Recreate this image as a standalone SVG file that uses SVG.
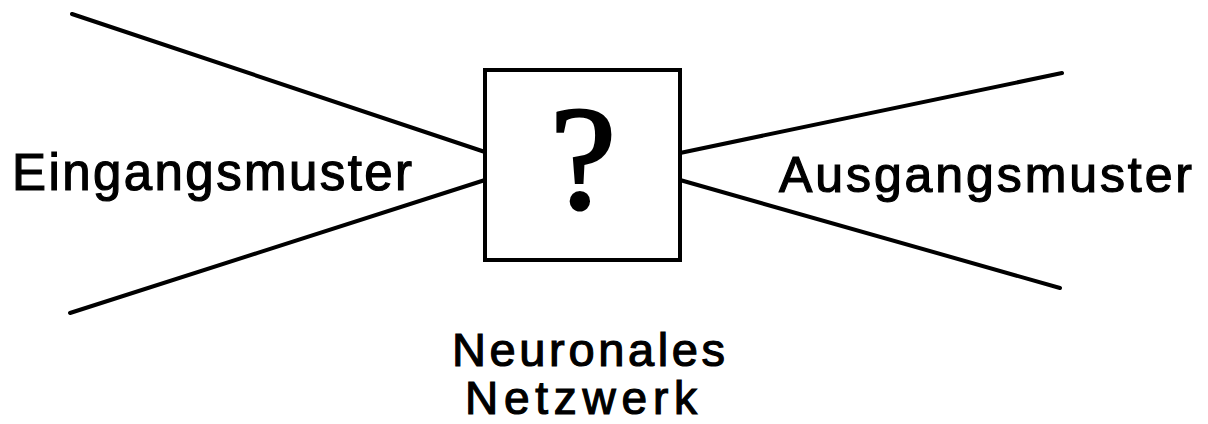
<svg xmlns="http://www.w3.org/2000/svg" width="1208" height="424" viewBox="0 0 1208 424">
  <style>
    .ln { stroke: #000; stroke-width: 4; stroke-linecap: round; fill: none; }
    .lbl { font-family: "Liberation Sans", Arial, sans-serif; fill: #000; stroke: #000; stroke-width: 1.2; }
  </style>
  <rect width="1208" height="424" fill="#fff"/>
  <g id="connectors">
    <line class="ln" x1="72" y1="14" x2="485" y2="152"/>
    <line class="ln" x1="70" y1="313" x2="485" y2="180"/>
    <line class="ln" x1="680" y1="153" x2="1062" y2="73"/>
    <line class="ln" x1="680" y1="180" x2="1060" y2="288"/>
  </g>
  <g id="node-network">
    <rect x="485" y="70" width="195" height="190" fill="#fff" stroke="#000" stroke-width="4"/>
    <text x="583" y="208" text-anchor="middle" font-family="'Liberation Serif', 'Times New Roman', serif" font-size="148" fill="#000" stroke="#000" stroke-width="3">?</text>
  </g>
  <g id="label-input">
    <text class="lbl" x="12" y="190" font-size="51" textLength="400" lengthAdjust="spacing">Eingangsmuster</text>
  </g>
  <g id="label-output">
    <text class="lbl" x="779" y="192" font-size="50" textLength="413" lengthAdjust="spacing">Ausgangsmuster</text>
  </g>
  <g id="label-network">
    <text class="lbl" x="452" y="366" font-size="47" textLength="273" lengthAdjust="spacing">Neuronales</text>
    <text class="lbl" x="465" y="414" font-size="46" textLength="232" lengthAdjust="spacing">Netzwerk</text>
  </g>
</svg>
